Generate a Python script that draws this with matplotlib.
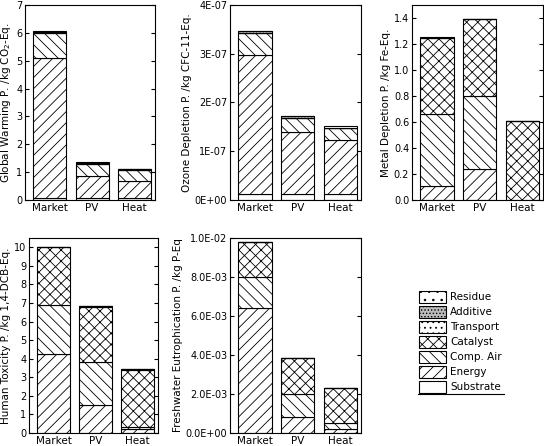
import matplotlib.pyplot as plt
import numpy as np

cats = ['Market', 'PV', 'Heat']
comps = ['Substrate', 'Energy', 'Comp. Air', 'Catalyst', 'Transport', 'Additive', 'Residue']
hatches = ['', '///', '\\\\\\', 'xxx', '...', '.....', '..']
fills = ['white', 'white', 'white', 'white', 'white', '#bbbbbb', 'white']

# values per component (bottom to top), one entry per category
gw_sub = [0.08, 0.06, 0.06]
gw_energy = [5.0, 0.80, 0.62]
gw_air = [0.92, 0.45, 0.40]
gw_cat = [0.0, 0.0, 0.0]
gw_trans = [0.02, 0.01, 0.02]
gw_add = [0.02, 0.02, 0.02]
gw_res = [0.01, 0.01, 0.01]

od_sub = [1.2e-8, 1.2e-8, 1.2e-8]
od_energy = [2.85e-7, 1.28e-7, 1.12e-7]
od_air = [0.45e-7, 0.28e-7, 0.23e-7]
od_cat = [0.0, 0.0, 0.0]
od_trans = [0.01e-7, 0.01e-7, 0.01e-7]
od_add = [0.03e-7, 0.04e-7, 0.0]
od_res = [0.0, 0.0, 0.04e-7]

md_sub = [0.0, 0.0, 0.0]
md_energy = [0.11, 0.24, 0.0]
md_air = [0.55, 0.56, 0.0]
md_cat = [0.59, 0.59, 0.61]
md_trans = [0.0, 0.0, 0.0]
md_add = [0.0, 0.0, 0.0]
md_res = [0.0, 0.0, 0.0]

ht_sub = [0.0, 0.0, 0.0]
ht_energy = [4.25, 1.5, 0.2]
ht_air = [2.65, 2.3, 0.15]
ht_cat = [3.1, 3.0, 3.05]
ht_trans = [0.0, 0.02, 0.02]
ht_add = [0.0, 0.03, 0.03]
ht_res = [0.0, 0.0, 0.0]

fe_sub = [0.0, 0.0, 0.0]
fe_energy = [6.4e-3, 0.8e-3, 0.2e-3]
fe_air = [1.6e-3, 1.2e-3, 0.3e-3]
fe_cat = [1.8e-3, 1.85e-3, 1.8e-3]
fe_trans = [0.0, 0.0, 0.0]
fe_add = [0.0, 0.0, 0.0]
fe_res = [0.0, 0.0, 0.0]

panels = [
    ('Global Warming P. /kg CO$_2$-Eq.', [gw_sub, gw_energy, gw_air, gw_cat, gw_trans, gw_add, gw_res],
     (0, 7), np.arange(0, 8, 1), ['%d' % v for v in range(8)]),
    ('Ozone Depletion P. /kg CFC-11-Eq.', [od_sub, od_energy, od_air, od_cat, od_trans, od_add, od_res],
     (0, 4e-7), np.arange(0, 5) * 1e-7, ['0E+00', '1E-07', '2E-07', '3E-07', '4E-07']),
    ('Metal Depletion P. /kg Fe-Eq.', [md_sub, md_energy, md_air, md_cat, md_trans, md_add, md_res],
     (0, 1.5), np.arange(0, 1.41, 0.2), ['%.1f' % v for v in np.arange(0, 1.41, 0.2)]),
    ('Human Toxicity P. /kg 1,4-DCB-Eq.', [ht_sub, ht_energy, ht_air, ht_cat, ht_trans, ht_add, ht_res],
     (0, 10.5), np.arange(0, 11, 1), ['%d' % v for v in range(11)]),
    ('Freshwater Eutrophication P. /kg P-Eq', [fe_sub, fe_energy, fe_air, fe_cat, fe_trans, fe_add, fe_res],
     (0, 1.0e-2), np.arange(0, 6) * 2e-3, ['0.0E+00', '2.0E-03', '4.0E-03', '6.0E-03', '8.0E-03', '1.0E-02']),
]

# axes rectangles in pixels: left, top, right, bottom
W, H = 544, 446
rects = [(25, 5, 155, 200), (230, 5, 361, 200), (412, 5, 543, 200),
         (29, 238, 158, 433), (230, 238, 361, 433)]

plt.rcParams['hatch.linewidth'] = 0.6
fig = plt.figure(figsize=(W / 100, H / 100), dpi=100)

x = np.arange(3)
for (ylabel, stack, ylim, yt, ytl), (l, t, r, b) in zip(panels, rects):
    ax = fig.add_axes([l / W, 1 - b / H, (r - l) / W, (b - t) / H])
    bottom = np.zeros(3)
    for vals, h, fc in zip(stack, hatches, fills):
        vals = np.array(vals)
        ax.bar(x, vals, 0.78, bottom=bottom, color=fc, edgecolor='black',
               hatch=h, linewidth=0.8)
        bottom += vals
    ax.set_xlim(-0.58, 2.48)
    ax.set_ylim(*ylim)
    ax.set_yticks(yt)
    ax.set_yticklabels(ytl)
    ax.set_xticks(x)
    ax.set_xticklabels(cats)
    ax.set_ylabel(ylabel, fontsize=7.5, labelpad=2)
    ax.tick_params(axis='y', direction='in', right=True, labelsize=7, length=3, pad=2)
    ax.tick_params(axis='x', length=0, labelsize=7.5, pad=2)
    for s in ax.spines.values():
        s.set_linewidth(0.8)

# legend
lax = fig.add_axes([418 / W, 1 - 394 / H, 110 / W, 106 / H])
lax.axis('off')
lax.set_xlim(0, 110)
lax.set_ylim(0, 106)
for i, (name, h, fc) in enumerate(zip(comps, hatches, fills)):
    yb = 1 + i * 15
    lax.bar(14, 12, 27, bottom=yb, color=fc, edgecolor='black', hatch=h, linewidth=0.8)
    lax.text(32, yb + 6, name, fontsize=7.5, va='center')
lax.plot([0, 86], [0, 0], color='black', lw=0.8, clip_on=False)

fig.savefig('out.png', dpi=100)
